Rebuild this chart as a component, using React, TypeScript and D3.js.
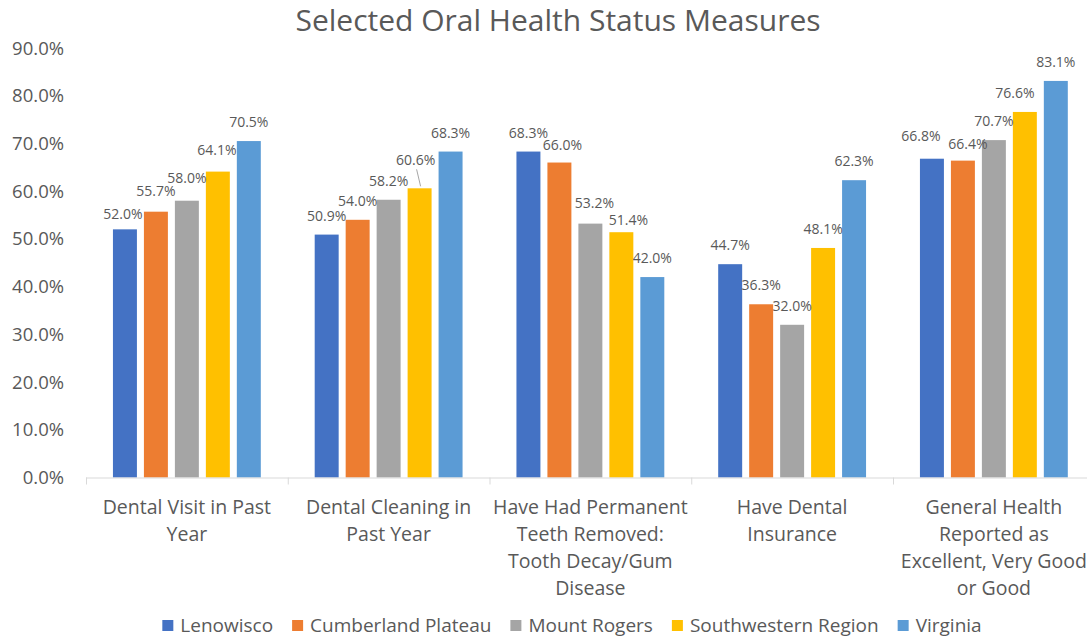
import React, { useEffect, useRef } from 'react'
import * as d3 from 'd3'

const categories = [
  'Dental Visit in Past Year',
  'Dental Cleaning in Past Year',
  'Have Had Permanent Teeth Removed: Tooth Decay/Gum Disease',
  'Have Dental Insurance',
  'General Health Reported as Excellent, Very Good or Good'
]
const categoryLines = [
  ['Dental Visit in Past', 'Year'],
  ['Dental Cleaning in', 'Past Year'],
  ['Have Had Permanent', 'Teeth Removed:', 'Tooth Decay/Gum', 'Disease'],
  ['Have Dental', 'Insurance'],
  ['General Health', 'Reported as', 'Excellent, Very Good', 'or Good']
]
const seriesNames = ['Lenowisco', 'Cumberland Plateau', 'Mount Rogers', 'Southwestern Region', 'Virginia']
const lenowisco = [52.0, 50.9, 68.3, 44.7, 66.8]
const cumberland = [55.7, 54.0, 66.0, 36.3, 66.4]
const mountRogers = [58.0, 58.2, 53.2, 32.0, 70.7]
const southwestern = [64.1, 60.6, 51.4, 48.1, 76.6]
const virginia = [70.5, 68.3, 42.0, 62.3, 83.1]
const seriesColors = ['#4472C4', '#ED7D31', '#A5A5A5', '#FFC000', '#5B9BD5']
const yTicks = [0, 10, 20, 30, 40, 50, 60, 70, 80, 90]

const FONT = '"Open Sans", sans-serif'
const TEXT = '#595959'

// hand-moved data labels, as in the original: "category index/series" -> [dx, dy]
const labelNudge: Record<string, [number, number]> = {
  '0/Lenowisco': [-2, 4],
  '0/Cumberland Plateau': [0, -2],
  '0/Mount Rogers': [0, -4],
  '0/Southwestern Region': [-1, -3],
  '1/Southwestern Region': [-4, -9],
  '2/Cumberland Plateau': [3, 1],
  '2/Mount Rogers': [4, -2],
  '2/Southwestern Region': [7, 7],
  '4/Lenowisco': [-11, -4],
  '4/Cumberland Plateau': [5, 2],
  '4/Southwestern Region': [-10, 0]
}

export default function App() {
  const ref = useRef<SVGSVGElement>(null)

  useEffect(() => {
    document.body.style.margin = '0'
    const svg = d3.select(ref.current)
    svg.selectAll('*').remove()

    const values = [lenowisco, cumberland, mountRogers, southwestern, virginia]
    const rows = categories.map((c, i) => ({
      category: c,
      index: i,
      bars: seriesNames.map((s, j) => ({ series: s, value: values[j][i], color: seriesColors[j] }))
    }))

    const left = 86
    const band = 201.75
    const x0 = d3.scaleBand().domain(categories).range([left, left + band * categories.length])
    const x1 = d3.scaleBand().domain(seriesNames).range([0, x0.bandwidth()])
      .paddingInner(0.226).paddingOuter(0.87)
    const y = d3.scaleLinear().domain([0, 90]).range([477.5, 48])

    // title
    svg.append('text')
      .attr('x', 558).attr('y', 31)
      .attr('text-anchor', 'middle')
      .attr('font-family', FONT).attr('font-size', 30)
      .attr('fill', TEXT)
      .text('Selected Oral Health Status Measures')

    // y labels
    svg.append('g').selectAll('text')
      .data(yTicks)
      .enter().append('text')
        .attr('x', 64).attr('y', d => y(d) + 6.5)
        .attr('text-anchor', 'end')
        .attr('font-family', FONT).attr('font-size', 18.5)
        .attr('fill', TEXT)
        .text(d => d.toFixed(1) + '%')

    // bars
    const groups = svg.append('g').selectAll('g')
      .data(rows)
      .enter().append('g')
        .attr('transform', d => `translate(${x0(d.category)},0)`)

    groups.selectAll('rect')
      .data(d => d.bars)
      .enter().append('rect')
        .attr('x', d => x1(d.series)!)
        .attr('width', x1.bandwidth())
        .attr('y', d => y(d.value))
        .attr('height', d => y(0) - y(d.value))
        .attr('fill', d => d.color)

    groups.selectAll('text')
      .data(d => d.bars.map(b => ({ ...b, key: d.index + '/' + b.series })))
      .enter().append('text')
        .attr('x', d => x1(d.series)! + x1.bandwidth() / 2 + (labelNudge[d.key]?.[0] ?? 0))
        .attr('y', d => y(d.value) - 14 + (labelNudge[d.key]?.[1] ?? 0))
        .attr('text-anchor', 'middle')
        .attr('font-family', FONT).attr('font-size', 14)
        .attr('fill', TEXT)
        .text(d => d.value.toFixed(1) + '%')

    // leader line for the lifted label
    const gx = x0(categories[1])! + x1('Southwestern Region')! + x1.bandwidth() / 2
    svg.append('line')
      .attr('x1', gx - 3).attr('y1', y(southwestern[1]) - 19)
      .attr('x2', gx + 1).attr('y2', y(southwestern[1]) - 2)
      .attr('stroke', '#a6a6a6').attr('stroke-width', 1)

    // x axis
    svg.append('line')
      .attr('x1', left).attr('x2', 1087)
      .attr('y1', y(0) + 0.5).attr('y2', y(0) + 0.5)
      .attr('stroke', '#d9d9d9')
    svg.append('g').selectAll('line')
      .data(d3.range(categories.length + 1))
      .enter().append('line')
        .attr('x1', i => left + band * i + 0.5).attr('x2', i => left + band * i + 0.5)
        .attr('y1', y(0)).attr('y2', y(0) + 7)
        .attr('stroke', '#d9d9d9')

    const catLabels = svg.append('g').selectAll('text')
      .data(categories)
      .enter().append('text')
        .attr('text-anchor', 'middle')
        .attr('font-family', FONT).attr('font-size', 19.5)
        .attr('fill', TEXT)
    catLabels.selectAll('tspan')
      .data((d, i) => categoryLines[i].map(l => ({ l, c: d })))
      .enter().append('tspan')
        .attr('x', d => x0(d.c)! + x0.bandwidth() / 2)
        .attr('y', (d, i) => 514 + i * 27)
        .text(d => d.l)

    // legend
    const legend = svg.append('g')
    let cursor = 0
    seriesNames.forEach((name, i) => {
      const item = legend.append('g').attr('transform', `translate(${cursor},0)`)
      item.append('rect')
        .attr('x', 0).attr('y', 620).attr('width', 11).attr('height', 11)
        .attr('fill', seriesColors[i])
      const t = item.append('text')
        .attr('x', 18).attr('y', 632)
        .attr('font-family', FONT).attr('font-size', 19)
        .attr('fill', TEXT)
        .text(name)
      const w = (t.node() as SVGTextElement).getComputedTextLength()
      cursor += 18 + w + 19
    })
    const total = cursor - 19
    legend.attr('transform', `translate(${572 - total / 2},0)`)
  }, [])

  return <svg ref={ref} width={1087} height={638} style={{ display: 'block', background: '#fff' }} />
}
